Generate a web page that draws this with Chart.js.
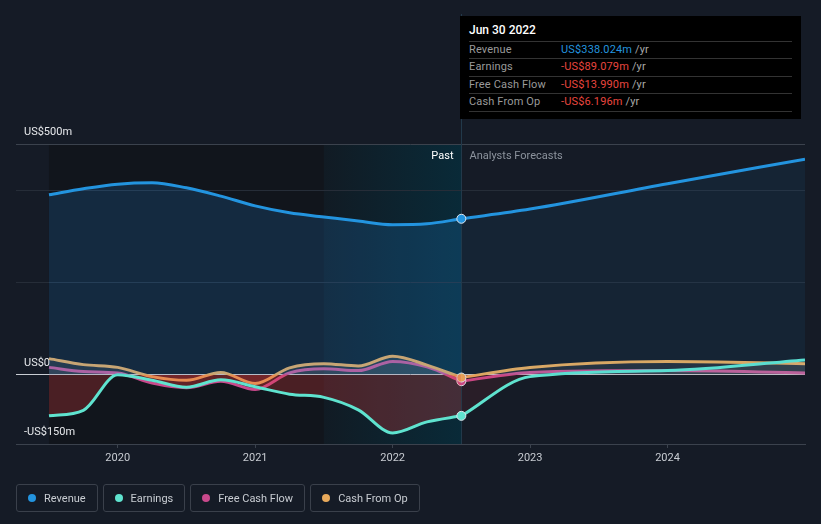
<!DOCTYPE html>
<html>
<head>
<meta charset="utf-8">
<script src="https://cdn.jsdelivr.net/npm/chart.js@4/dist/chart.umd.min.js"></script>
<style>
  body { margin: 0; background: #151b26; font-family: Roboto, "Noto Sans", sans-serif; }
  #wrap { position: relative; width: 821px; height: 524px; overflow: hidden; }
  #tip { position: absolute; left: 460px; top: 16px; width: 341px; height: 103px; background: #000; box-sizing: border-box; padding: 0 9px; }
  #tip .title { color: #fff; font-size: 12px; font-weight: 500; height: 24.5px; line-height: 29px; border-bottom: 1px solid #333; }
  #tip .row { height: 16.5px; line-height: 16.5px; border-bottom: 1px solid #333; font-size: 11px; letter-spacing: 0.15px; color: #9a9a9a; position: relative; }
  #tip .row .v { position: absolute; left: 92px; top: 0; }
  #tip .row .u { color: #a8a8a8; }
  #legend { position: absolute; left: 16px; top: 484px; display: flex; gap: 5px; }
  #legend .item { height: 28px; box-sizing: border-box; border: 1px solid #3a404b; border-radius: 3px; padding: 0 11px 0 11px; display: flex; align-items: center; color: #c8ccd2; font-size: 11px; }
  #legend .dot { width: 8px; height: 8px; border-radius: 50%; margin-right: 8px; }
</style>
</head>
<body>
<div id="wrap">
  <canvas id="c" width="821" height="524"></canvas>
  <div id="tip"></div>
  <div id="legend"></div>
</div>
<script>
// data (US$m)
const pastYears = [2019.5, 2019.75, 2020, 2020.25, 2020.5, 2020.75, 2021, 2021.25, 2021.5, 2021.75, 2022, 2022.25, 2022.5];
const forecastYears = [2022.5, 2023, 2024, 2025];
const revenuePast = [390, 403, 413, 416, 405, 387, 366, 351, 342, 333, 325, 327, 338];
const revenueForecast = [338, 359, 414, 467];
const earningsPast = [-89, -77, 0, -12, -27, -11, -26, -42, -49, -76, -126, -102, -89];
const earningsForecast = [-89, -4, 9, 32];
const fcfPast = [16, 7, 4, -18, -28, -14, -32, 4, 13, 9, 29, 17, -14];
const fcfForecast = [-14, 5, 9, 4];
const cfoPast = [35, 22, 16, -4, -12, 5, -19, 15, 24, 19, 40, 21, -6];
const cfoForecast = [-6, 16, 29, 24];
const xTicks = [2020, 2021, 2022, 2023, 2024];
const yTicks = [-150, 0, 200, 400, 500];
const yLabels = { '500': 'US$500m', '0': 'US$0', '-150': '-US$150m' };
const seriesNames = ['Revenue', 'Earnings', 'Free Cash Flow', 'Cash From Op'];
const seriesColors = ['#2394df', '#5fe3cf', '#c9498c', '#e8a95b'];
const tipDate = 'Jun 30 2022';
const tipValues = ['US$338.024m', '-US$89.079m', '-US$13.990m', '-US$6.196m'];

const pastEnd = 2022.5, highlightStart = 2021.5;

// tooltip + legend
const tip = document.getElementById('tip');
tip.innerHTML = `<div class="title">${tipDate}</div>` + seriesNames.map((n, i) =>
  `<div class="row">${n}<span class="v"><span style="color:${i === 0 ? '#2394df' : '#e8463f'}">${tipValues[i]}</span> <span class="u">/yr</span></span></div>`).join('');
const legend = document.getElementById('legend');
seriesNames.forEach((n, i) => {
  const d = document.createElement('div');
  d.className = 'item';
  d.innerHTML = `<span class="dot" style="background:${seriesColors[i]}"></span>${n}`;
  legend.appendChild(d);
});

const pts = (xs, ys) => xs.map((x, i) => ({ x, y: ys[i] }));
const lastIdx = pastYears.length - 1;

function line(data, color, fill, isPast) {
  return {
    data, borderColor: color, borderWidth: 3, fill,
    cubicInterpolationMode: 'monotone',
    pointRadius: isPast ? (c => c.dataIndex === lastIdx ? 4.5 : 0) : 0,
    pointBackgroundColor: color, pointBorderColor: '#dfe6ee', pointBorderWidth: 1
  };
}
const redPast = 'rgba(230,60,60,0.27)', redFc = 'rgba(230,60,60,0.10)';

const bands = {
  id: 'bands',
  beforeDraw(chart) {
    const { ctx, chartArea: a, scales: { x } } = chart;
    ctx.save();
    ctx.fillStyle = '#151b26';
    ctx.fillRect(0, 0, chart.width, chart.height);
    const x0 = x.getPixelForValue(pastYears[0]);
    const x1 = x.getPixelForValue(highlightStart);
    const x2 = x.getPixelForValue(pastEnd);
    ctx.fillStyle = '#11151c';
    ctx.fillRect(x0, a.top, x1 - x0, a.bottom - a.top);
    const g = ctx.createLinearGradient(x1, 0, x2, 0);
    g.addColorStop(0, '#111b24');
    g.addColorStop(1, '#092a38');
    ctx.fillStyle = g;
    ctx.fillRect(x1, a.top, x2 - x1, a.bottom - a.top);
    ctx.restore();
  },
  beforeDatasetsDraw(chart) {
    const { ctx, chartArea: a, scales: { x } } = chart;
    const xp = Math.round(x.getPixelForValue(pastEnd)) + 0.5;
    ctx.save();
    ctx.strokeStyle = '#22394a';
    ctx.lineWidth = 1;
    ctx.beginPath(); ctx.moveTo(xp, 14); ctx.lineTo(xp, a.bottom); ctx.stroke();
    ctx.font = '11px Roboto';
    ctx.textBaseline = 'middle';
    ctx.textAlign = 'right';
    ctx.fillStyle = '#ffffff';
    ctx.fillText('Past', xp - 8, a.top + 12);
    ctx.textAlign = 'left';
    ctx.fillStyle = '#8c939d';
    ctx.fillText('Analysts Forecasts', xp + 8, a.top + 12);
    ctx.restore();
  }
};

new Chart(document.getElementById('c'), {
  type: 'line',
  data: {
    datasets: [
      line(pts(pastYears, revenuePast), seriesColors[0], { target: 'origin', above: 'rgba(33,150,243,0.17)' }, true),
      line(pts(forecastYears, revenueForecast), seriesColors[0], { target: 'origin', above: 'rgba(33,150,243,0.07)' }, false),
      line(pts(pastYears, earningsPast), seriesColors[1], { target: 'origin', above: 'rgba(200,200,200,0.1)', below: redPast }, true),
      line(pts(forecastYears, earningsForecast), seriesColors[1], { target: 'origin', above: 'rgba(200,200,200,0.08)', below: redFc }, false),
      line(pts(pastYears, cfoPast), seriesColors[3], { target: 'origin', above: 'rgba(200,200,200,0.12)', below: 'rgba(230,60,60,0.15)' }, true),
      line(pts(forecastYears, cfoForecast), seriesColors[3], { target: 'origin', above: 'rgba(200,200,200,0.1)', below: redFc }, false),
      line(pts(pastYears, fcfPast), seriesColors[2], { target: 'origin', above: 'rgba(200,200,200,0.08)', below: 'rgba(230,60,60,0.15)' }, true),
      line(pts(forecastYears, fcfForecast), seriesColors[2], { target: 'origin', above: 'rgba(200,200,200,0.06)', below: redFc }, false)
    ]
  },
  options: {
    responsive: false,
    devicePixelRatio: 1,
    animation: false,
    events: [],
    layout: { padding: { top: 144, left: 16, right: 16, bottom: 0 } },
    plugins: { legend: { display: false }, tooltip: { enabled: false } },
    scales: {
      x: {
        type: 'linear', min: 2019.26, max: 2025,
        afterBuildTicks: s => { s.ticks = xTicks.map(v => ({ value: v })); },
        afterFit: s => { s.height = 80; },
        grid: { drawOnChartArea: false, tickLength: 4, color: '#3b424d' },
        border: { display: true, color: '#3b424d' },
        ticks: { color: '#c8ccd2', font: { family: 'Roboto', size: 11 }, padding: 4, callback: v => String(v) }
      },
      y: {
        min: -150, max: 500,
        afterBuildTicks: s => { s.ticks = yTicks.map(v => ({ value: v })); },
        afterFit: s => { s.width = 0; },
        border: { display: false },
        grid: {
          drawTicks: false,
          color: c => c.tick.value === 0 ? '#c9cdd3' : (c.tick.value === 500 || c.tick.value === -150 ? '#3b424d' : '#262d38')
        },
        ticks: {
          mirror: true, padding: 8, labelOffset: -12,
          color: '#e6e8eb', font: { family: 'Roboto', size: 11 },
          callback: v => yLabels[String(v)] || ''
        }
      }
    }
  },
  plugins: [bands]
});
</script>
</body>
</html>
